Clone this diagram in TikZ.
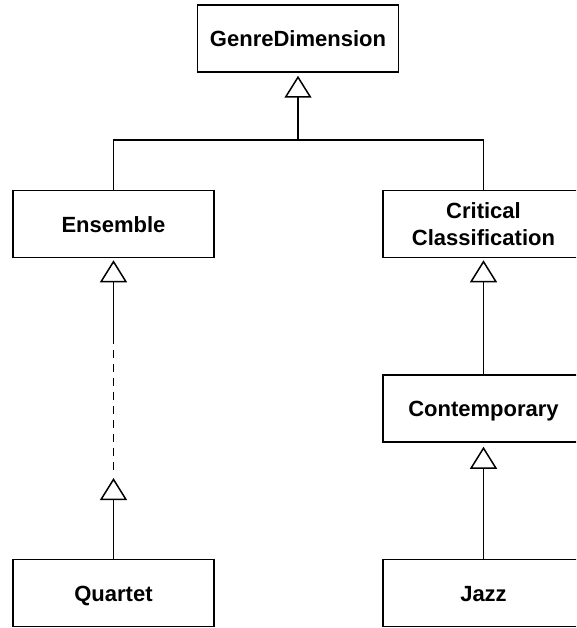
\documentclass[tikz,border=0pt]{standalone}
\usepackage{fontspec}
\setmainfont{Liberation Sans}
\usetikzlibrary{arrows.meta}
\begin{document}
\begin{tikzpicture}[x=1pt,y=-1pt,
  umlbox/.style={draw, line width=1.5pt, minimum width=201pt, minimum height=67pt,
    inner sep=0pt, font=\fontsize{22}{27}\selectfont\bfseries, align=center},
  onel/.style={text height=16pt, text depth=0pt},
  conn/.style={line width=1.5pt},
  inh/.style={conn, -{Triangle[open, length=22pt, width=27pt]}, shorten >=3pt}
]
\useasboundingbox (0,0) rectangle (576,628);
\clip (0,0) rectangle (576,628);
\fill[white] (0,0) rectangle (576,628);

\node[umlbox, onel] (genre) at (298,38.5) {GenreDimension};
\node[umlbox, onel] (ens) at (113.5,224) {Ensemble};
\node[umlbox] (crit) at (483.5,224) {Critical\\Classification};
\node[umlbox, onel] (contemp) at (483.5,408.5) {Contemporary};
\node[umlbox, onel] (quartet) at (113.5,593) {Quartet};
\node[umlbox, onel] (jazz) at (483.5,593) {Jazz};

% bus to GenreDimension
\coordinate (bus) at (298,140);
\draw[conn] (ens.north) |- (bus) -| (crit.north);
\draw[inh] (bus) -- (genre.south);

% Quartet -> Ensemble (with elided intermediate)
\coordinate (qtip) at (113.5,478);
\coordinate (dtop) at (113.5,340);
\coordinate (dbot) at (113.5,470);
\draw[conn, -{Triangle[open, length=22pt, width=27pt]}] (quartet.north) -- (qtip);
\draw[conn, dash pattern=on 8pt off 6pt] (dbot) -- (dtop);
\draw[inh, shorten >=2pt] (dtop) -- (ens.south);

% right column
\draw[inh, shorten >=2pt] (contemp.north) -- (crit.south);
\draw[inh, shorten >=4pt] (jazz.north) -- (contemp.south);
\end{tikzpicture}
\end{document}
